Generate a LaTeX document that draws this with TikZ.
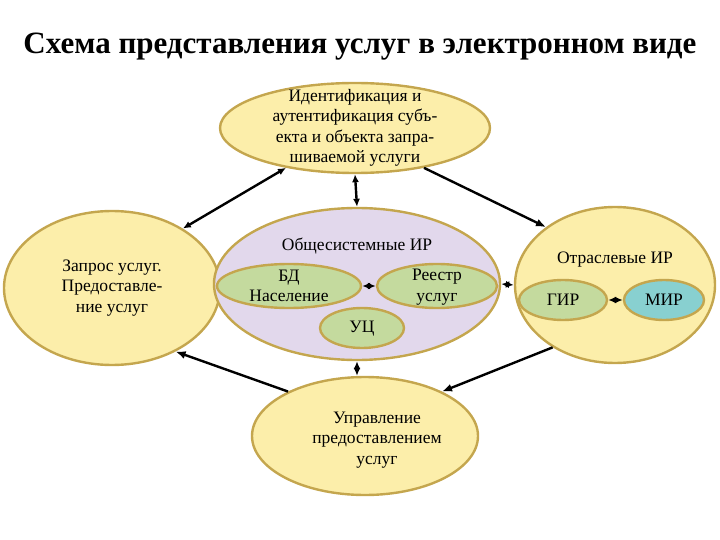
\documentclass[tikz,border=0pt]{standalone}
\usepackage{fontspec}
\setmainfont{Liberation Serif}
\usetikzlibrary{shapes.geometric,arrows.meta}
\begin{document}
\begin{tikzpicture}[x=1pt,y=-1pt,
 el/.style={ellipse,draw=border,line width=2.4pt,inner sep=0pt},
 yel/.style={el,fill=yel},
 arr/.style={-{Latex[length=10pt,width=8pt]},line width=2.4pt},
 dar/.style={{Latex[length=8pt,width=7pt]}-{Latex[length=8pt,width=7pt]},line width=2.4pt},
 txt/.style={font=\fontsize{17.5}{20.5}\selectfont,align=center}]
\definecolor{yel}{HTML}{FCEEAA}
\definecolor{border}{HTML}{C4A64E}
\definecolor{pur}{HTML}{E2D8EC}
\definecolor{grn}{HTML}{C4DA9E}
\definecolor{teal}{HTML}{88D0D0}
\useasboundingbox (0,0) rectangle (720,540);
\node[font=\bfseries\fontsize{31}{34}\selectfont] (title) at (360,47) {Схема представления услуг в электронном виде};
\node[yel,minimum width=270pt,minimum height=90pt] (top) at (355,128) {};
\node[txt] at (355,128) {Идентификация и\\аутентификация субъ-\\екта и объекта запра-\\шиваемой услуги};
\node[yel,minimum width=216pt,minimum height=154pt] (left) at (112,288) {};
\node[txt] at (112,288) {Запрос услуг.\\Предоставле-\\ние услуг};
\node[yel,minimum width=200pt,minimum height=156pt] (right) at (615,285) {};
\node[txt] at (615,260) {Отраслевые ИР};
\node[yel,minimum width=226pt,minimum height=118pt] (bot) at (365,436) {};
\node[txt] at (377,440) {Управление\\предоставлением\\услуг};
\node[el,fill=pur,minimum width=286pt,minimum height=152pt] (mid) at (357,284) {};
\node[txt] at (357,246) {Общесистемные ИР};
\node[el,fill=grn,minimum width=144pt,minimum height=44pt] (bd) at (289,286) {};
\node[txt] at (289,286) {БД\\Население};
\node[el,fill=grn,minimum width=120pt,minimum height=44pt] (reg) at (437,286) {};
\node[txt] at (437,287) {Реестр\\услуг};
\node[el,fill=grn,minimum width=84pt,minimum height=40pt] (uc) at (362,328) {};
\node[txt] at (362,329) {УЦ};
\node[el,fill=grn,minimum width=88pt,minimum height=40pt] (gir) at (563,300) {};
\node[txt] at (563,300) {ГИР};
\node[el,fill=teal,minimum width=80pt,minimum height=40pt] (mir) at (664,300) {};
\node[txt] at (664,300) {МИР};
\draw[dar] (bd) -- (reg);
\draw[dar] (gir) -- (mir);
\draw[dar] (mid.east) -- (right.west);
\draw[dar] (top.south) -- (mid.north);
\draw[dar] (mid.south) -- (mid.south |- bot.north);
\draw[dar] (top.-150) -- (left.40);
\draw[arr] (top.-30) -- (right.140);
\draw[arr] (right.-135) -- (bot.30);
\draw[arr] (bot.150) -- (left.-45);
\end{tikzpicture}
\end{document}
